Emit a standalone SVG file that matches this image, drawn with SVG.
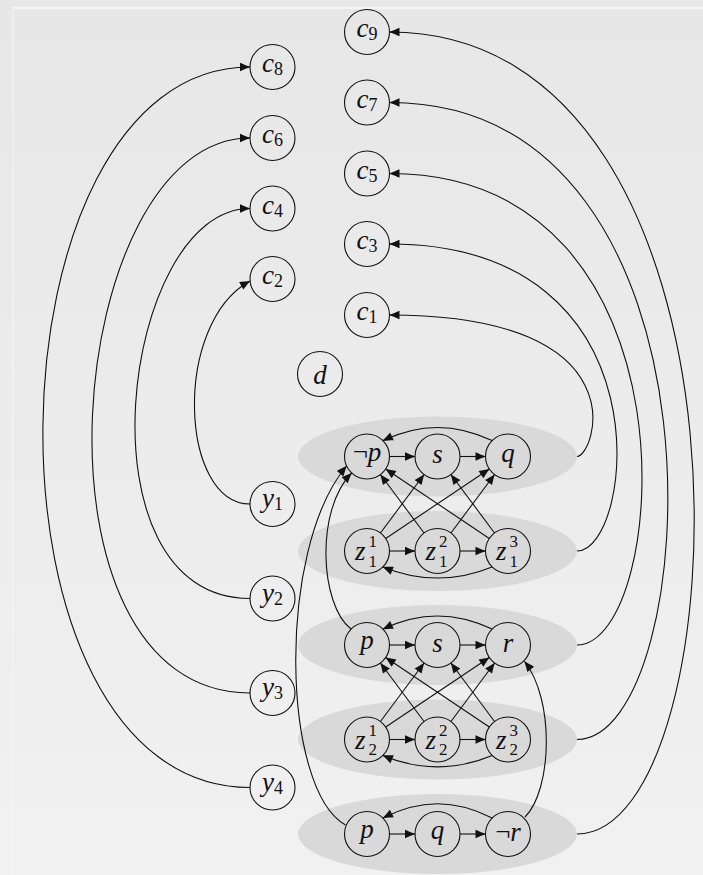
<svg xmlns="http://www.w3.org/2000/svg" width="703" height="875" viewBox="0 0 703 875">
<defs>
<linearGradient id="bg" x1="0" y1="0" x2="0" y2="1">
<stop offset="0" stop-color="#e7e7e7"/>
<stop offset="1" stop-color="#f1f1f1"/>
</linearGradient>
<marker id="ah" viewBox="-11 -5 12 10" refX="0" refY="0" markerWidth="12" markerHeight="10" orient="auto" markerUnits="userSpaceOnUse">
<path d="M0.5,0 C-3,-1.2 -7,-3 -10,-4.3 L-10,4.3 C-7,3 -3,1.2 0.5,0 Z" fill="#111"/>
</marker>
<style>
.node circle { fill: none; stroke: #111; stroke-width: 1.1; }
text { font-family: "Liberation Serif", "Times New Roman", serif; font-size: 27px; fill: #111; }
.it { font-style: italic; }
.sc { font-size: 18px; font-style: normal; }
.zs { font-size: 17px; font-style: normal; }
.edges path { fill: none; stroke: #111; stroke-width: 1.1; marker-end: url(#ah); }
.cl ellipse { fill: #d9d9d9; }
</style>
</defs>
<rect width="703" height="875" fill="url(#bg)"/>
<line x1="13" y1="8" x2="703" y2="8" stroke="#fafafa" stroke-width="1.5"/>
<line x1="13" y1="8" x2="13" y2="875" stroke="#f6f6f6" stroke-width="1"/>

<g class="cl" id="clusters">
<ellipse cx="437.5" cy="456.5" rx="139.5" ry="40"/>
<ellipse cx="437.5" cy="551" rx="139.5" ry="40"/>
<ellipse cx="437.5" cy="645" rx="139.5" ry="40"/>
<ellipse cx="437.5" cy="739.5" rx="139.5" ry="40"/>
<ellipse cx="437.5" cy="834" rx="139.5" ry="40"/>
</g>

<g class="edges" id="connectors">
<path d="M389.5,456.5 H415"/>
<path d="M460,456.5 H485.5"/>
<path d="M492.1,440.6 C455,422.9 420,422.9 382.9,440.6"/>
<path d="M389.5,551 H415"/>
<path d="M460,551 H485.5"/>
<path d="M492.1,566.9 C455,582 420,582 382.9,566.9"/>
<path d="M380.45,532.97 L424.05,474.53"/>
<path d="M385.7,538.47 L489.3,469.03"/>
<path d="M424.05,532.97 L380.45,474.53"/>
<path d="M450.95,532.97 L494.55,474.53"/>
<path d="M489.3,538.47 L385.7,469.03"/>
<path d="M494.55,532.97 L450.95,474.53"/>
<path d="M389.5,645 H415"/>
<path d="M460,645 H485.5"/>
<path d="M492.1,629.1 C455,611.4 420,611.4 382.9,629.1"/>
<path d="M389.5,739.5 H415"/>
<path d="M460,739.5 H485.5"/>
<path d="M492.1,755.4 C455,771 420,771 382.9,755.4"/>
<path d="M380.45,721.47 L424.05,663.03"/>
<path d="M385.7,726.97 L489.3,657.53"/>
<path d="M424.05,721.47 L380.45,663.03"/>
<path d="M450.95,721.47 L494.55,663.03"/>
<path d="M489.3,726.97 L385.7,657.53"/>
<path d="M494.55,721.47 L450.95,663.03"/>
<path d="M389.5,834 H415"/>
<path d="M460,834 H485.5"/>
<path d="M492.1,818.1 C455,799 420,799 382.9,818.1"/>
<path d="M345.5,825 C282,790 276,550 346.6,466"/>
<path d="M351,629 C320,605 315,510 351.7,473"/>
<path d="M525,817 C552,790 555,700 524.5,661.5"/>
<path d="M577,456.5 C595,456.5 643.3,315 389.5,315"/>
<path d="M577,551 C633.7,551 671.7,244 389.5,244"/>
<path d="M577,645 C668.7,645 706.8,173.5 389.5,173.5"/>
<path d="M577,739.5 C703.9,739.5 742.9,102.5 389.5,102.5"/>
<path d="M577,834 C742.3,834 775.7,32 389.5,32"/>
<path d="M250,787.5 C-32.3,787.5 -20,67 250,67"/>
<path d="M250,693 C16.2,693 63.7,138 250,138"/>
<path d="M250,598.5 C73.8,598.5 121.3,208.5 250,208.5"/>
<path d="M250,504 C180,504 172,324 250,281"/>
</g>

<g class="node" id="c9"><circle cx="367" cy="32" r="22.5"/><text x="367" y="37" text-anchor="middle"><tspan class="it">c</tspan><tspan class="sc" dy="3">9</tspan></text></g>
<g class="node" id="c7"><circle cx="367" cy="102.5" r="22.5"/><text x="367" y="107.5" text-anchor="middle"><tspan class="it">c</tspan><tspan class="sc" dy="3">7</tspan></text></g>
<g class="node" id="c5"><circle cx="367" cy="173.5" r="22.5"/><text x="367" y="178.5" text-anchor="middle"><tspan class="it">c</tspan><tspan class="sc" dy="3">5</tspan></text></g>
<g class="node" id="c3"><circle cx="367" cy="244" r="22.5"/><text x="367" y="249" text-anchor="middle"><tspan class="it">c</tspan><tspan class="sc" dy="3">3</tspan></text></g>
<g class="node" id="c1"><circle cx="367" cy="315" r="22.5"/><text x="367" y="320" text-anchor="middle"><tspan class="it">c</tspan><tspan class="sc" dy="3">1</tspan></text></g>

<g class="node" id="c8"><circle cx="272.5" cy="67" r="22.5"/><text x="272.5" y="72" text-anchor="middle"><tspan class="it">c</tspan><tspan class="sc" dy="3">8</tspan></text></g>
<g class="node" id="c6"><circle cx="272.5" cy="138" r="22.5"/><text x="272.5" y="143" text-anchor="middle"><tspan class="it">c</tspan><tspan class="sc" dy="3">6</tspan></text></g>
<g class="node" id="c4"><circle cx="272.5" cy="208.5" r="22.5"/><text x="272.5" y="213.5" text-anchor="middle"><tspan class="it">c</tspan><tspan class="sc" dy="3">4</tspan></text></g>
<g class="node" id="c2"><circle cx="272.5" cy="279" r="22.5"/><text x="272.5" y="284" text-anchor="middle"><tspan class="it">c</tspan><tspan class="sc" dy="3">2</tspan></text></g>

<g class="node" id="d"><circle cx="320" cy="374" r="22.5"/><text x="320" y="383.5" text-anchor="middle" class="it">d</text></g>

<g class="node" id="y1"><circle cx="272.5" cy="504" r="22.5"/><text x="272.5" y="507" text-anchor="middle"><tspan class="it">y</tspan><tspan class="sc" dy="3">1</tspan></text></g>
<g class="node" id="y2"><circle cx="272.5" cy="598.5" r="22.5"/><text x="272.5" y="601.5" text-anchor="middle"><tspan class="it">y</tspan><tspan class="sc" dy="3">2</tspan></text></g>
<g class="node" id="y3"><circle cx="272.5" cy="693" r="22.5"/><text x="272.5" y="696" text-anchor="middle"><tspan class="it">y</tspan><tspan class="sc" dy="3">3</tspan></text></g>
<g class="node" id="y4"><circle cx="272.5" cy="787.5" r="22.5"/><text x="272.5" y="790.5" text-anchor="middle"><tspan class="it">y</tspan><tspan class="sc" dy="3">4</tspan></text></g>

<g class="node" id="np1"><circle cx="367" cy="456.5" r="22.5"/><text x="367" y="460.5" text-anchor="middle">¬<tspan class="it">p</tspan></text></g>
<g class="node" id="s1"><circle cx="437.5" cy="456.5" r="22.5"/><text x="437.5" y="463" text-anchor="middle" class="it">s</text></g>
<g class="node" id="q1"><circle cx="508" cy="456.5" r="22.5"/><text x="508" y="461.5" text-anchor="middle" class="it">q</text></g>
<g class="node" id="z11"><circle cx="367" cy="551" r="22.5"/><text x="355" y="560" class="it">z</text><text x="368.5" y="547" class="zs">1</text><text x="368.5" y="566.5" class="zs">1</text></g>
<g class="node" id="z12"><circle cx="437.5" cy="551" r="22.5"/><text x="425.5" y="560" class="it">z</text><text x="439" y="547" class="zs">2</text><text x="439" y="566.5" class="zs">1</text></g>
<g class="node" id="z13"><circle cx="508" cy="551" r="22.5"/><text x="496" y="560" class="it">z</text><text x="509.5" y="547" class="zs">3</text><text x="509.5" y="566.5" class="zs">1</text></g>

<g class="node" id="p2"><circle cx="367" cy="645" r="22.5"/><text x="367" y="649" text-anchor="middle" class="it">p</text></g>
<g class="node" id="s2"><circle cx="437.5" cy="645" r="22.5"/><text x="437.5" y="651.5" text-anchor="middle" class="it">s</text></g>
<g class="node" id="r2"><circle cx="508" cy="645" r="22.5"/><text x="508" y="651.5" text-anchor="middle" class="it">r</text></g>
<g class="node" id="z21"><circle cx="367" cy="739.5" r="22.5"/><text x="355" y="748.5" class="it">z</text><text x="368.5" y="735.5" class="zs">1</text><text x="368.5" y="755" class="zs">2</text></g>
<g class="node" id="z22"><circle cx="437.5" cy="739.5" r="22.5"/><text x="425.5" y="748.5" class="it">z</text><text x="439" y="735.5" class="zs">2</text><text x="439" y="755" class="zs">2</text></g>
<g class="node" id="z23"><circle cx="508" cy="739.5" r="22.5"/><text x="496" y="748.5" class="it">z</text><text x="509.5" y="735.5" class="zs">3</text><text x="509.5" y="755" class="zs">2</text></g>

<g class="node" id="p3"><circle cx="367" cy="834" r="22.5"/><text x="367" y="838" text-anchor="middle" class="it">p</text></g>
<g class="node" id="q3"><circle cx="437.5" cy="834" r="22.5"/><text x="437.5" y="838.5" text-anchor="middle" class="it">q</text></g>
<g class="node" id="nr3"><circle cx="508" cy="834" r="22.5"/><text x="508" y="840.5" text-anchor="middle">¬<tspan class="it">r</tspan></text></g>
</svg>
